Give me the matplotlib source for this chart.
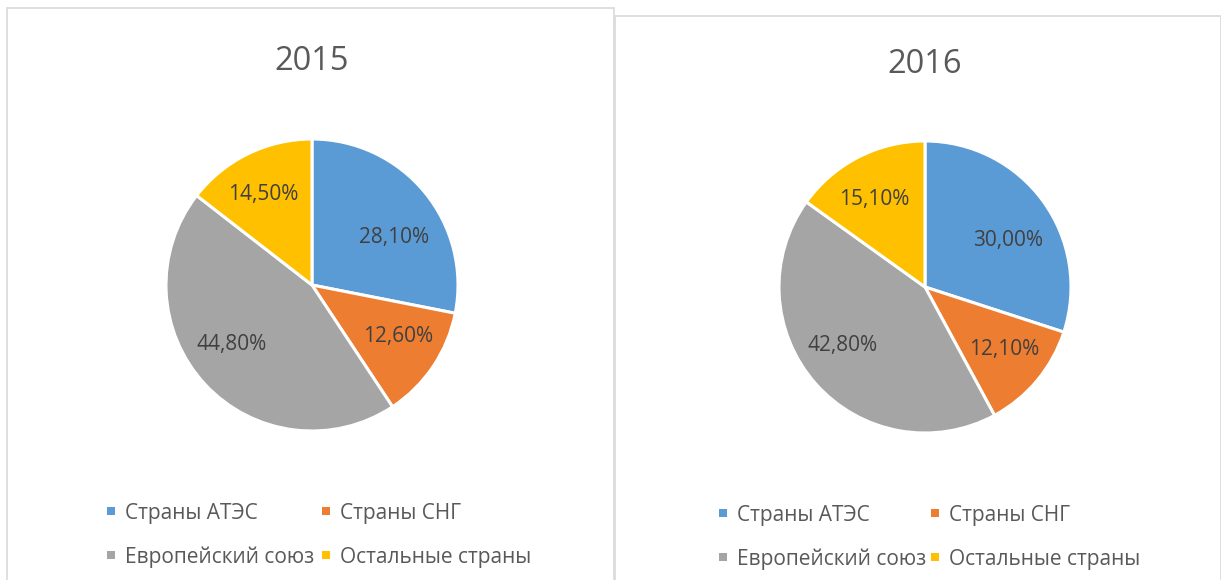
import matplotlib
matplotlib.use("Agg")
import matplotlib.pyplot as plt
from matplotlib.patches import Rectangle
import numpy as np

plt.rcParams['font.family'] = ['Open Sans', 'DejaVu Sans']

categories = ["Страны АТЭС", "Страны СНГ", "Европейский союз", "Остальные страны"]
years = ["2015", "2016"]
values_2015 = [28.1, 12.6, 44.8, 14.5]
values_2016 = [30.0, 12.1, 42.8, 15.1]
colors = ["#5B9BD5", "#ED7D31", "#A5A5A5", "#FFC000"]
text_color = "#595959"
label_color = "#404040"

W, H = 1221, 580
fig = plt.figure(figsize=(W / 100, H / 100), dpi=100)

def fx(x): return x / W
def fy(y): return 1 - y / H

# panel borders (extend past the bottom edge)
for (x0, y0, x1) in [(7, 8, 614), (615, 16, 1221)]:
    fig.patches.append(Rectangle((fx(x0), fy(600)), fx(x1 - x0), (600 - y0) / H,
                                 transform=fig.transFigure, fill=False,
                                 edgecolor="#D9D9D9", linewidth=1.2))

# label placement offsets (in units of pie radius), per panel
panels = [
    dict(vals=values_2015, year=years[0], cx=312, cy=285, r=146, ty=70,
         offs=[(0.560, 0.342), (0.587, -0.342), (-0.553, -0.395), (-0.334, 0.632)],
         legx=(107, 322), legy=(511, 555)),
    dict(vals=values_2016, year=years[1], cx=925, cy=287, r=146, ty=73,
         offs=[(0.568, 0.329), (0.543, -0.413), (-0.568, -0.386), (-0.349, 0.613)],
         legx=(719, 931), legy=(513, 557)),
]

FS = 15
for p in panels:
    r = p["r"]
    ax = fig.add_axes([fx(p["cx"] - r), fy(p["cy"] + r), 2 * r / W, 2 * r / H])
    wedges, texts, autotexts = ax.pie(
        p["vals"], colors=colors, startangle=90, counterclock=False,
        wedgeprops=dict(edgecolor="white", linewidth=2.2),
        autopct=lambda v: f"{v:.2f}%".replace(".", ","),
        textprops=dict(color=label_color, fontsize=FS))
    base_shift = 7.5 / r
    for t, (dx, dy) in zip(autotexts, p["offs"]):
        t.set_position((dx, dy - base_shift))
        t.set_va("baseline")
    ax.set_xlim(-1, 1)
    ax.set_ylim(-1, 1)
    ax.set_aspect("equal")
    ax.axis("off")
    fig.text(fx(p["cx"]), fy(p["ty"]), p["year"], ha="center", va="baseline",
             fontsize=23.5, color=text_color)
    # legend (row-major, 2 columns)
    for i, (cat, col) in enumerate(zip(categories, colors)):
        mx = p["legx"][i % 2]
        my = p["legy"][i // 2]
        fig.patches.append(Rectangle((fx(mx), fy(my + 4)), 8 / W, 8 / H,
                                     transform=fig.transFigure,
                                     facecolor=col, edgecolor="none"))
        fig.text(fx(mx + 18), fy(my + 7.5), cat, ha="left", va="baseline",
                 fontsize=FS, color=text_color)

fig.savefig("out.png", dpi=100, facecolor="white")
